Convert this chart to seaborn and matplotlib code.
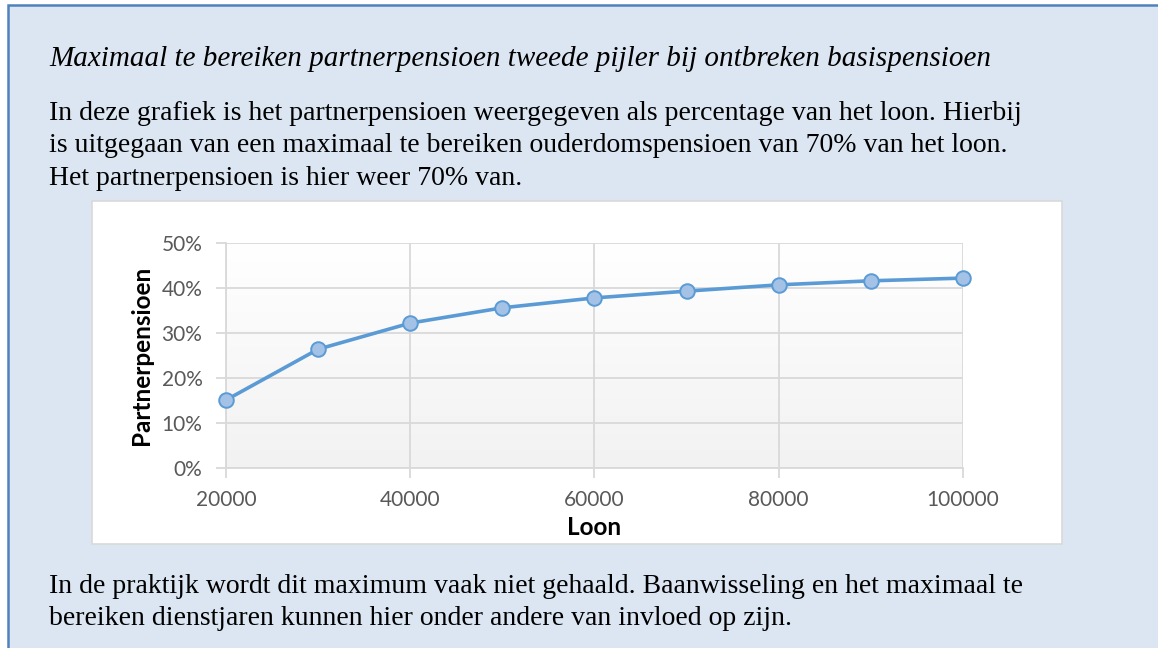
import numpy as np
import pandas as pd
import matplotlib
matplotlib.use("Agg")
import matplotlib.pyplot as plt
from matplotlib.patches import Rectangle
from matplotlib.ticker import FuncFormatter
from matplotlib.colors import LinearSegmentedColormap
import seaborn as sns

# ---- data ----
loon = [20000, 30000, 40000, 50000, 60000, 70000, 80000, 90000, 100000]
partnerpensioen = [0.151, 0.264, 0.322, 0.356, 0.378, 0.393, 0.407, 0.416, 0.422]
x_ticks = [20000, 40000, 60000, 80000, 100000]
y_ticks = [0.0, 0.1, 0.2, 0.3, 0.4, 0.5]

title_text = "Maximaal te bereiken partnerpensioen tweede pijler bij ontbreken basispensioen"
intro_lines = [
    "In deze grafiek is het partnerpensioen weergegeven als percentage van het loon. Hierbij",
    "is uitgegaan van een maximaal te bereiken ouderdomspensioen van 70% van het loon.",
    "Het partnerpensioen is hier weer 70% van.",
]
outro_lines = [
    "In de praktijk wordt dit maximum vaak niet gehaald. Baanwisseling en het maximaal te",
    "bereiken dienstjaren kunnen hier onder andere van invloed op zijn.",
]

sns.set_theme(style="white")
plt.rcParams["font.family"] = ["Lato", "DejaVu Sans"]

W, H = 1158, 648
fig = plt.figure(figsize=(W / 100, H / 100), dpi=100, facecolor="white")

def fx(px):
    return px / W

def fy(py):
    return 1 - py / H

# outer light-blue panel with blue border
fig.patches.append(Rectangle((fx(8), fy(700)), fx(1200) - fx(8), fy(5) - fy(700),
                             transform=fig.transFigure, facecolor="#DCE6F2",
                             edgecolor="#4F81BD", linewidth=1.8, zorder=0))
# white chart box
fig.patches.append(Rectangle((fx(92), fy(544)), fx(1062) - fx(92), fy(201) - fy(544),
                             transform=fig.transFigure, facecolor="white",
                             edgecolor="#D9D9D9", linewidth=1.2, zorder=1))

serif = ["Liberation Serif", "DejaVu Serif"]
fig.text(fx(49), fy(66), title_text, family=serif, style="italic", fontsize=21,
         color="black", va="baseline", ha="left")
for i, line in enumerate(intro_lines):
    fig.text(fx(49), fy(120 + 32.5 * i), line, family=serif, fontsize=20,
             color="black", va="baseline", ha="left")
for i, line in enumerate(outro_lines):
    fig.text(fx(49), fy(593 + 32 * i), line, family=serif, fontsize=20,
             color="black", va="baseline", ha="left")

# axes
left, right, top, bottom = 226, 963, 243, 468
ax = fig.add_axes([fx(left), fy(bottom), fx(right) - fx(left), fy(top) - fy(bottom)])
ax.set_zorder(2)
ax.patch.set_alpha(0)

# gradient background of plot area
grad = np.linspace(0, 1, 256).reshape(-1, 1)
cmap = LinearSegmentedColormap.from_list("g", ["#F2F2F2", "#FFFFFF"])
ax.imshow(grad, extent=[0, 1, 0, 1], transform=ax.transAxes, cmap=cmap,
          aspect="auto", origin="lower", zorder=0)

df = pd.DataFrame({"Loon": loon, "Partnerpensioen": partnerpensioen})
sns.lineplot(data=df, x="Loon", y="Partnerpensioen", ax=ax, color="#5B9BD5",
             linewidth=2.6, marker="o", markersize=10.5, markerfacecolor="#A4C2E6",
             markeredgecolor="#5B9BD5", markeredgewidth=1.4, zorder=5, clip_on=False)

ax.set_xlim(20000, 100000)
ax.set_ylim(0, 0.5)
ax.set_xticks(x_ticks)
ax.set_yticks(y_ticks)
ax.yaxis.set_major_formatter(FuncFormatter(lambda v, p: f"{v * 100:.0f}%"))
ax.grid(True, color="#D9D9D9", linewidth=1.3)
ax.set_axisbelow(True)
for s in ["top", "right"]:
    ax.spines[s].set_visible(False)
for s in ["left", "bottom"]:
    ax.spines[s].set_color("#D9D9D9")
    ax.spines[s].set_linewidth(1.3)
ax.tick_params(axis="both", which="major", length=7, width=1.3, color="#D9D9D9",
               labelsize=15, labelcolor="#595959", left=True, bottom=True)
ax.tick_params(axis="y", pad=10)
ax.tick_params(axis="x", pad=9)
ax.set_xlabel("Loon", fontsize=17.5, fontweight="bold", color="black", labelpad=4)
ax.set_ylabel("Partnerpensioen", fontsize=17.5, fontweight="bold", color="black", labelpad=6)

fig.savefig("out.png", dpi=100, facecolor=fig.get_facecolor())
